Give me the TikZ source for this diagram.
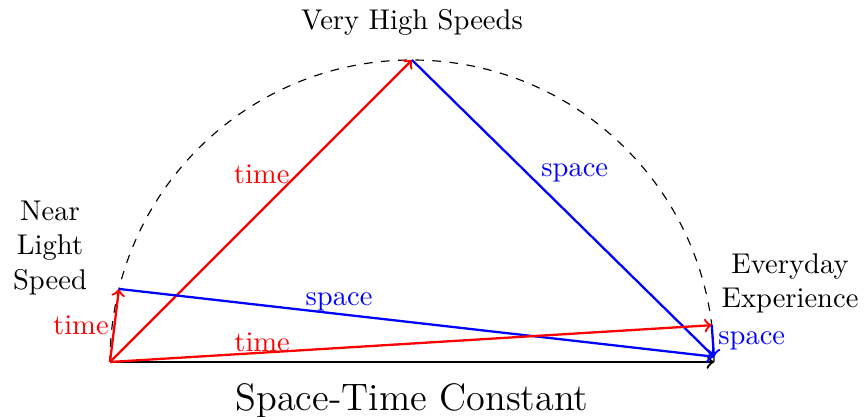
\documentclass[tikz,border=0pt]{standalone}
\begin{document}
\begin{tikzpicture}[x=0.35023pt,y=0.35023pt,
  vec/.style={->,thick},
  tvec/.style={vec,red},
  svec/.style={vec,blue}]
\useasboundingbox (0,0) rectangle (864,417);
\coordinate (C) at (412,55);
\coordinate (O) at (110,55);
\coordinate (E) at (714,55);
\coordinate (T) at ([shift={(90:302)}]C);
\coordinate (P) at ([shift={(166:302)}]C);
\coordinate (Q) at ([shift={(7:302)}]C);
\coordinate (E2) at ([shift={(1:302)}]C);
\draw[dashed] (E) arc[start angle=0,end angle=180,radius=302];
\draw[vec] (O) -- (E);
\draw[tvec] (O) -- node[pos=0.62,left,xshift=1pt]{time} (T);
\draw[svec] (T) -- node[pos=0.38,right,xshift=1.4pt]{space} (E2);
\draw[tvec] (O) -- node[left,xshift=1.7pt]{time} (P);
\draw[svec] (P) -- node[pos=0.37,above,yshift=-2.8pt]{space} (E2);
\draw[tvec] (O) -- node[pos=0.25,above,yshift=-3.4pt,xshift=0.6pt]{time} (Q);
\draw[svec] (Q) -- node[right,xshift=-1.8pt]{space} (E2);
\node (vh) at (412,395) {Very High Speeds};
\node[align=center] (nl) at (50,169) {Near\\Light\\Speed};
\node[align=center] (ee) at (790,134) {Everyday\\Experience};
\node[font=\fontsize{13.4pt}{16pt}\selectfont] (stc) at (412,16) {Space-Time Constant};
\end{tikzpicture}
\end{document}
